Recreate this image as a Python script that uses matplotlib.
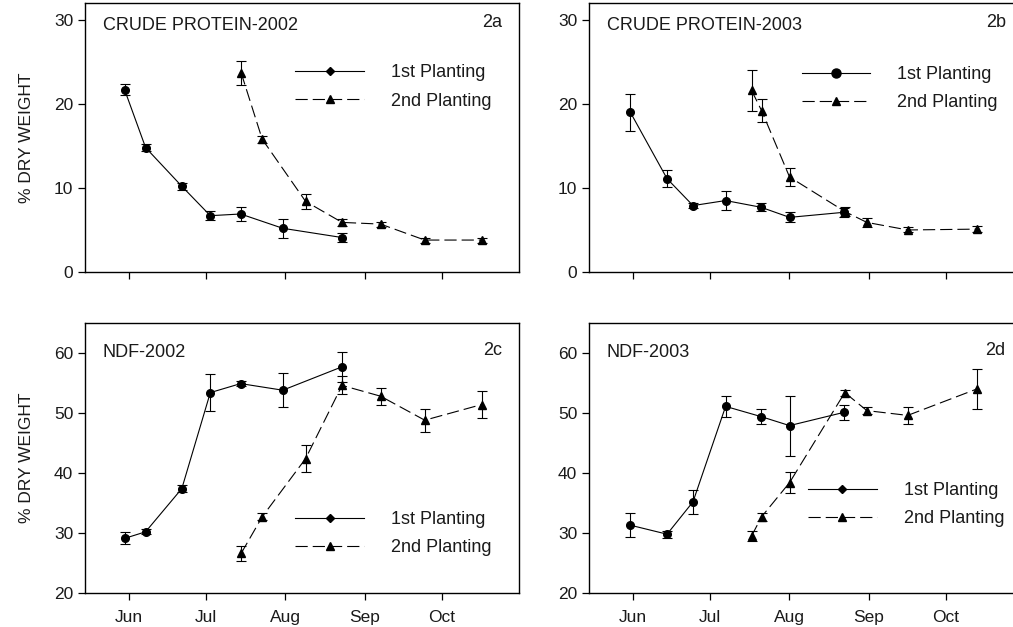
import matplotlib
matplotlib.use("Agg")
import matplotlib.pyplot as plt
from matplotlib.lines import Line2D

plt.rcParams['font.family'] = ['Liberation Sans', 'DejaVu Sans']

# sampling dates as day of year
days_1st_2002 = [150.4, 158.6, 172.7, 183.8, 195.6, 212.0, 235.1]
days_2nd_2002 = [195.8, 204.0, 220.9, 235.1, 250.1, 267.3, 289.4]
days_1st_2003 = [151.1, 165.4, 175.5, 188.2, 202.0, 213.1, 234.2]
days_2nd_2003 = [198.3, 202.2, 213.1, 234.6, 243.2, 259.1, 286.0]

# crude protein (% dry weight)
cp_1st_2002 = [21.7, 14.8, 10.2, 6.7, 6.9, 5.2, 4.1]
cp_1st_2002_err = [0.7, 0.4, 0.4, 0.5, 0.8, 1.1, 0.5]
cp_2nd_2002 = [23.7, 15.8, 8.4, 5.9, 5.7, 3.8, 3.8]
cp_2nd_2002_err = [1.4, 0.4, 0.9, 0.4, 0.3, 0.3, 0.3]
cp_1st_2003 = [19.0, 11.1, 7.9, 8.5, 7.7, 6.5, 7.1]
cp_1st_2003_err = [2.2, 1.0, 0.3, 1.1, 0.5, 0.6, 0.5]
cp_2nd_2003 = [21.6, 19.2, 11.3, 7.2, 5.9, 5.0, 5.1]
cp_2nd_2003_err = [2.4, 1.4, 1.1, 0.5, 0.5, 0.3, 0.4]

# NDF (% dry weight)
ndf_1st_2002 = [29.1, 30.2, 37.4, 53.4, 54.9, 53.8, 57.7]
ndf_1st_2002_err = [1.0, 0.4, 0.6, 3.1, 0.4, 2.8, 2.5]
ndf_2nd_2002 = [26.6, 32.7, 42.4, 54.6, 52.8, 48.8, 51.4]
ndf_2nd_2002_err = [1.3, 0.6, 2.2, 1.5, 1.4, 1.9, 2.2]
ndf_1st_2003 = [31.3, 29.8, 35.2, 51.1, 49.4, 47.9, 50.1]
ndf_1st_2003_err = [2.0, 0.6, 2.0, 1.8, 1.3, 5.0, 1.2]
ndf_2nd_2003 = [29.5, 32.7, 38.4, 53.4, 50.4, 49.6, 54.0]
ndf_2nd_2003_err = [0.8, 0.7, 1.8, 0.5, 0.6, 1.4, 3.3]

month_days = [152, 182, 213, 244, 274]
month_labels = ['Jun', 'Jul', 'Aug', 'Sep', 'Oct']

W, H = 1013, 627
fig = plt.figure(figsize=(W / 100, H / 100), dpi=100)

def px_axes(left, top, right, bottom):
    return fig.add_axes([left / W, 1 - bottom / H, (right - left) / W, (bottom - top) / H])

ax_a = px_axes(85, 3, 519, 272)
ax_b = px_axes(589, 3, 1023, 272)
ax_c = px_axes(85, 323, 519, 593)
ax_d = px_axes(589, 323, 1023, 593)

FS = 13
TXT = '#1a1a1a'
dash = (0, (11, 4.5))

def draw(ax, x1, y1, e1, x2, y2, e2):
    ax.errorbar(x1, y1, yerr=e1, color='black', lw=0.8, marker='o', ms=5.5,
                capsize=3.6, elinewidth=0.8, capthick=0.8)
    ax.errorbar(x2, y2, yerr=e2, color='black', lw=0.8, marker='^', ms=6,
                capsize=3.6, elinewidth=0.8, capthick=0.8, linestyle=dash)
    ax.set_xlim(135, 304)
    ax.set_xticks(month_days)
    for s in ax.spines.values():
        s.set_linewidth(1.0)
    ax.tick_params(direction='out', length=5, width=0.9, labelsize=12.5, colors='black',
                   labelcolor=TXT)

draw(ax_a, days_1st_2002, cp_1st_2002, cp_1st_2002_err, days_2nd_2002, cp_2nd_2002, cp_2nd_2002_err)
draw(ax_b, days_1st_2003, cp_1st_2003, cp_1st_2003_err, days_2nd_2003, cp_2nd_2003, cp_2nd_2003_err)
draw(ax_c, days_1st_2002, ndf_1st_2002, ndf_1st_2002_err, days_2nd_2002, ndf_2nd_2002, ndf_2nd_2002_err)
draw(ax_d, days_1st_2003, ndf_1st_2003, ndf_1st_2003_err, days_2nd_2003, ndf_2nd_2003, ndf_2nd_2003_err)

for ax in (ax_a, ax_b):
    ax.set_ylim(0, 32)
    ax.set_yticks([0, 10, 20, 30])
    ax.set_xticklabels([])
for ax in (ax_c, ax_d):
    ax.set_ylim(20, 65)
    ax.set_yticks([20, 30, 40, 50, 60])
    ax.set_xticklabels(month_labels)
    ax.tick_params(axis='x', pad=7)

ax_a.set_ylabel('% DRY WEIGHT', fontsize=12.5, labelpad=14, color=TXT)
ax_c.set_ylabel('% DRY WEIGHT', fontsize=12.5, labelpad=14, color=TXT)

titles = [(ax_a, 'CRUDE PROTEIN-2002', '2a', 0.918),
          (ax_b, 'CRUDE PROTEIN-2003', '2b', 0.918),
          (ax_c, 'NDF-2002', '2c', 0.889),
          (ax_d, 'NDF-2003', '2d', 0.889)]
for ax, t, tag, yy in titles:
    ax.text(0.041, yy, t, transform=ax.transAxes, fontsize=FS, va='center', ha='left', color=TXT)
    ax.text(0.96, yy + 0.01, tag, transform=ax.transAxes, fontsize=FS, va='center', ha='right',
            color=TXT)

def add_legend(ax, xa, ya, big_circle=False):
    if big_circle:
        h1 = Line2D([], [], color='black', lw=0.8, marker='o', ms=6.5)
    else:
        h1 = Line2D([], [], color='black', lw=0.8, marker='D', ms=4)
    h2 = Line2D([], [], color='black', lw=0.8, marker='^', ms=6, linestyle=dash)
    leg = ax.legend([h1, h2], ['1st Planting', '2nd Planting'], loc='center left',
                    bbox_to_anchor=(xa, ya), frameon=False, fontsize=FS, handlelength=3.8,
                    handletextpad=1.5, borderpad=0, borderaxespad=0, labelspacing=0.62)
    for t in leg.get_texts():
        t.set_color(TXT)

add_legend(ax_a, 0.485, 0.688)
add_legend(ax_b, 0.49, 0.682, big_circle=True)
add_legend(ax_c, 0.485, 0.22)
add_legend(ax_d, 0.505, 0.328)

fig.savefig('out.png', dpi=100)
